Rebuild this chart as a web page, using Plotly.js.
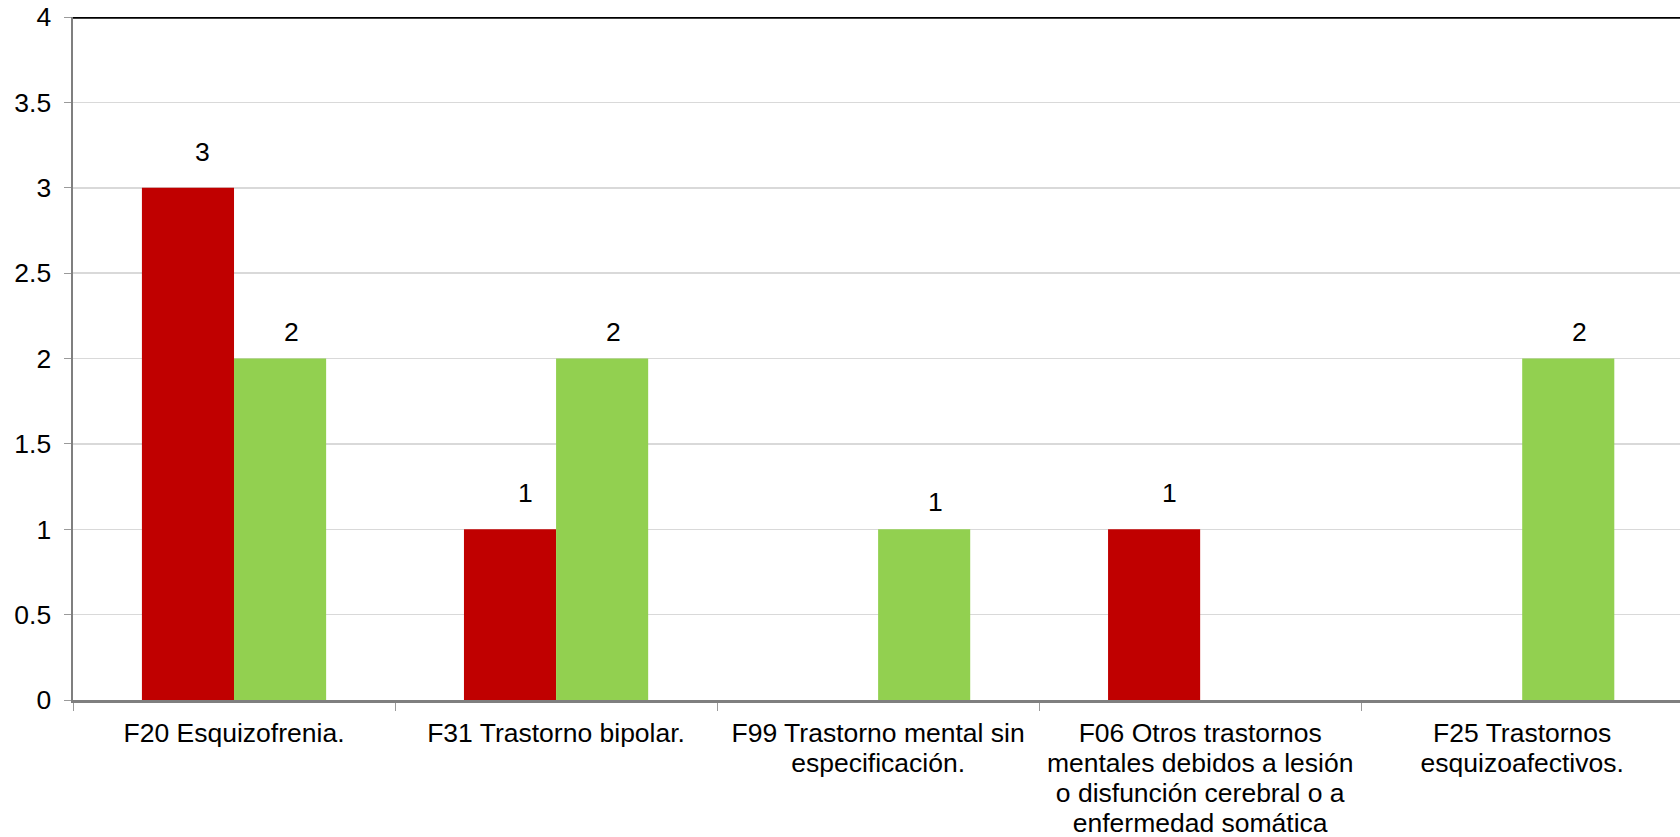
<!DOCTYPE html>
<html>
<head>
<meta charset="utf-8">
<script src="https://cdn.plot.ly/plotly-3.0.1.min.js"></script>
<style>
html, body { margin: 0; padding: 0; background: #ffffff; }
#chart { width: 1680px; height: 837px; }
</style>
</head>
<body>
<div id="chart"></div>
<script>
var categories = [
  "F20 Esquizofrenia.",
  "F31 Trastorno bipolar.",
  "F99 Trastorno mental sin<br>especificación.",
  "F06 Otros trastornos<br>mentales debidos a lesión<br>o disfunción cerebral o a<br>enfermedad somática",
  "F25 Trastornos<br>esquizoafectivos."
];
var seriesRed = [3, 1, null, 1, null];
var seriesGreen = [2, 2, 1, null, 2];
var yTickValues = [0, 0.5, 1, 1.5, 2, 2.5, 3, 3.5, 4];
var yTickLabels = ["0", "0.5", "1", "1.5", "2", "2.5", "3", "3.5", "4"];

var FONT = "Liberation Sans, Arial, sans-serif";
var FS = 26.5;

var traces = [
  { type: "bar", name: "Serie 1", x: categories, y: seriesRed,
    marker: { color: "#C00000" }, hoverinfo: "x+y" },
  { type: "bar", name: "Serie 2", x: categories, y: seriesGreen,
    marker: { color: "#92D050" }, hoverinfo: "x+y" }
];

var groupHalf = 0.143;
var annotations = [];
function addLabels(vals, dx, xs, ys) {
  vals.forEach(function (v, i) {
    if (v === null || v === undefined) return;
    annotations.push({
      x: i + dx, y: v, xref: "x", yref: "y",
      text: String(v), showarrow: false,
      xanchor: "center", yanchor: "middle",
      xshift: xs, yshift: ys,
      font: { family: FONT, size: FS, color: "#000000" }
    });
  });
}
addLabels(seriesRed, -groupHalf, 15, 36);
addLabels(seriesGreen, groupHalf, 11, 27);

var layout = {
  width: 1680, height: 837,
  margin: { l: 73, r: 0, t: 17, b: 137, pad: 0 },
  paper_bgcolor: "#ffffff", plot_bgcolor: "#ffffff",
  showlegend: false,
  barmode: "group",
  bargap: 0.428, bargroupgap: 0,
  font: { family: FONT, size: FS, color: "#000000" },
  xaxis: {
    type: "category",
    range: [-0.5, 4.49],
    tickson: "boundaries",
    ticks: "outside", ticklen: 8, tickwidth: 1, tickcolor: "#9a9a9a",
    showline: true, linecolor: "#7f7f7f", linewidth: 2.5,
    showgrid: false, zeroline: false,
    ticklabelstandoff: 8,
    tickfont: { family: FONT, size: FS, color: "#000000" },
    automargin: false
  },
  yaxis: {
    range: [0, 4],
    tickvals: yTickValues, ticktext: yTickLabels,
    ticks: "outside", ticklen: 7, tickwidth: 1, tickcolor: "#9a9a9a",
    showline: true, linecolor: "#7f7f7f", linewidth: 2.5,
    showgrid: true, gridcolor: "#d9d9d9", gridwidth: 1.5,
    zeroline: false,
    ticklabelstandoff: 7,
    tickfont: { family: FONT, size: FS, color: "#000000" },
    automargin: false
  },
  shapes: [{
    type: "line", xref: "paper", yref: "y",
    x0: 0, x1: 1, y0: 4, y1: 4,
    line: { color: "#000000", width: 3.5 }
  }],
  annotations: annotations
};

Plotly.newPlot("chart", traces, layout, { displayModeBar: false, staticPlot: true }).then(function (gd) {
  var tspans = gd.querySelectorAll(".xtick text tspan.line");
  tspans.forEach(function (t) {
    var dy = t.getAttribute("dy");
    var v = dy ? parseFloat(dy) : 0;
    if (v > 0) t.setAttribute("dy", (v / 1.3 * 1.13).toFixed(3) + "em");
  });
});
</script>
</body>
</html>
